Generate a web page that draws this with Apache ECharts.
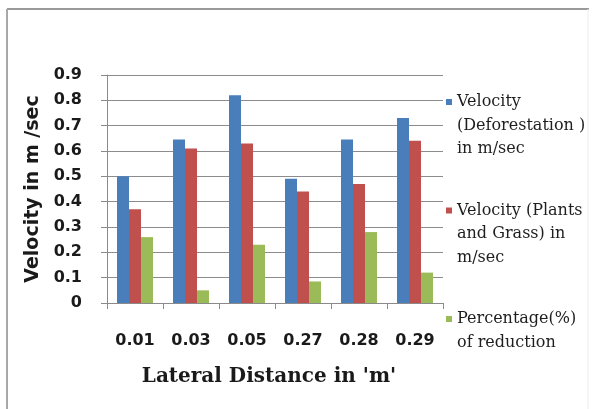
<!DOCTYPE html>
<html>
<head>
<meta charset="utf-8">
<title>Velocity by lateral distance</title>
<script src="https://cdn.jsdelivr.net/npm/echarts@6/dist/echarts.min.js"></script>
<style>
  html, body { margin: 0; padding: 0; background: #ffffff; }
  #chart { width: 593px; height: 409px; }
</style>
</head>
<body>
<div id="chart"></div>
<script>
// Lateral distance categories (m)
const categories = ['0.01', '0.03', '0.05', '0.27', '0.28', '0.29'];

// Velocity with deforestation (m/sec)
const velocityDeforestation = [0.50, 0.645, 0.82, 0.49, 0.645, 0.73];
// Velocity with plants and grass (m/sec)
const velocityPlants = [0.37, 0.61, 0.63, 0.44, 0.47, 0.64];
// Percentage of reduction (fraction)
const percentReduction = [0.26, 0.05, 0.23, 0.085, 0.28, 0.12];

// Legend labels, one entry per text line
const legendLines = [
  ['Velocity', '(Deforestation )', 'in m/sec'],
  ['Velocity (Plants', 'and Grass) in', 'm/sec'],
  ['Percentage(%)', 'of reduction']
];
const seriesNames = legendLines.map(l => l.join(' '));
const seriesColors = ['#4a7ebb', '#c0504d', '#9bbb59'];
const seriesData = [velocityDeforestation, velocityPlants, percentReduction];

const chart = echarts.init(document.getElementById('chart'), null, { renderer: 'canvas' });

// Each legend entry keeps its marker beside the first text line:
// blank rows above the text shift the centred block so row one sits on the marker.
const LINE_H = 23.5;
const markerCenters = [102, 210.5, 319];
const legends = legendLines.map((lines, i) => {
  const blank = lines.length - 1;
  const boxH = (blank + lines.length) * LINE_H;
  const text = '\u00a0\n'.repeat(blank) + lines.join('\n');
  return {
    orient: 'vertical',
    left: 446,
    top: markerCenters[i] - boxH / 2,
    padding: 0,
    itemWidth: 6,
    itemHeight: 6,
    icon: 'rect',
    selectedMode: false,
    data: [seriesNames[i]],
    formatter: () => text,
    textStyle: {
      fontFamily: 'DejaVu Serif',
      fontSize: 16,
      lineHeight: LINE_H,
      color: '#1e1e1e'
    }
  };
});

const option = {
  backgroundColor: '#ffffff',
  animation: false,
  graphic: [
    { type: 'line', shape: { x1: 7, y1: 9, x2: 589, y2: 9 }, style: { stroke: '#9a9a9a', lineWidth: 2 } },
    { type: 'line', shape: { x1: 7, y1: 9, x2: 7, y2: 409 }, style: { stroke: '#a8a8a8', lineWidth: 2 } },
    { type: 'line', shape: { x1: 588, y1: 9, x2: 588, y2: 409 }, style: { stroke: '#ececec', lineWidth: 1 } }
  ],
  legend: legends,
  grid: { left: 107, top: 75, right: 150, bottom: 106, containLabel: false },
  xAxis: {
    type: 'category',
    data: categories,
    name: "Lateral Distance in 'm'",
    nameLocation: 'middle',
    nameGap: 64,
    nameTextStyle: {
      fontFamily: 'DejaVu Serif',
      fontWeight: 'bold',
      fontSize: 20,
      color: '#1a1a1a',
      padding: [0, 12, 0, 0]
    },
    axisLine: { lineStyle: { color: '#8a8a8a', width: 1 } },
    axisTick: { show: true, length: 6, lineStyle: { color: '#8a8a8a' } },
    axisLabel: {
      margin: 30,
      fontFamily: 'DejaVu Sans',
      fontWeight: 'bold',
      fontSize: 16,
      color: '#1a1a1a'
    }
  },
  yAxis: {
    type: 'value',
    min: 0,
    max: 0.9,
    interval: 0.1,
    name: 'Velocity in m /sec',
    nameLocation: 'middle',
    nameGap: 64,
    nameTextStyle: {
      fontFamily: 'DejaVu Sans',
      fontWeight: 'bold',
      fontSize: 19,
      color: '#1a1a1a'
    },
    axisLine: { show: true, lineStyle: { color: '#8a8a8a', width: 1 } },
    axisTick: { show: true, length: 6, inside: false, lineStyle: { color: '#8a8a8a' } },
    splitLine: { show: true, lineStyle: { color: '#8c8c8c', width: 1 } },
    axisLabel: {
      margin: 25,
      fontFamily: 'DejaVu Sans',
      fontWeight: 'bold',
      fontSize: 16,
      color: '#1a1a1a'
    }
  },
  series: seriesData.map((d, i) => ({
    name: seriesNames[i],
    type: 'bar',
    data: d,
    barWidth: 12,
    barGap: '0%',
    itemStyle: { color: seriesColors[i] }
  }))
};

chart.setOption(option);
</script>
</body>
</html>
